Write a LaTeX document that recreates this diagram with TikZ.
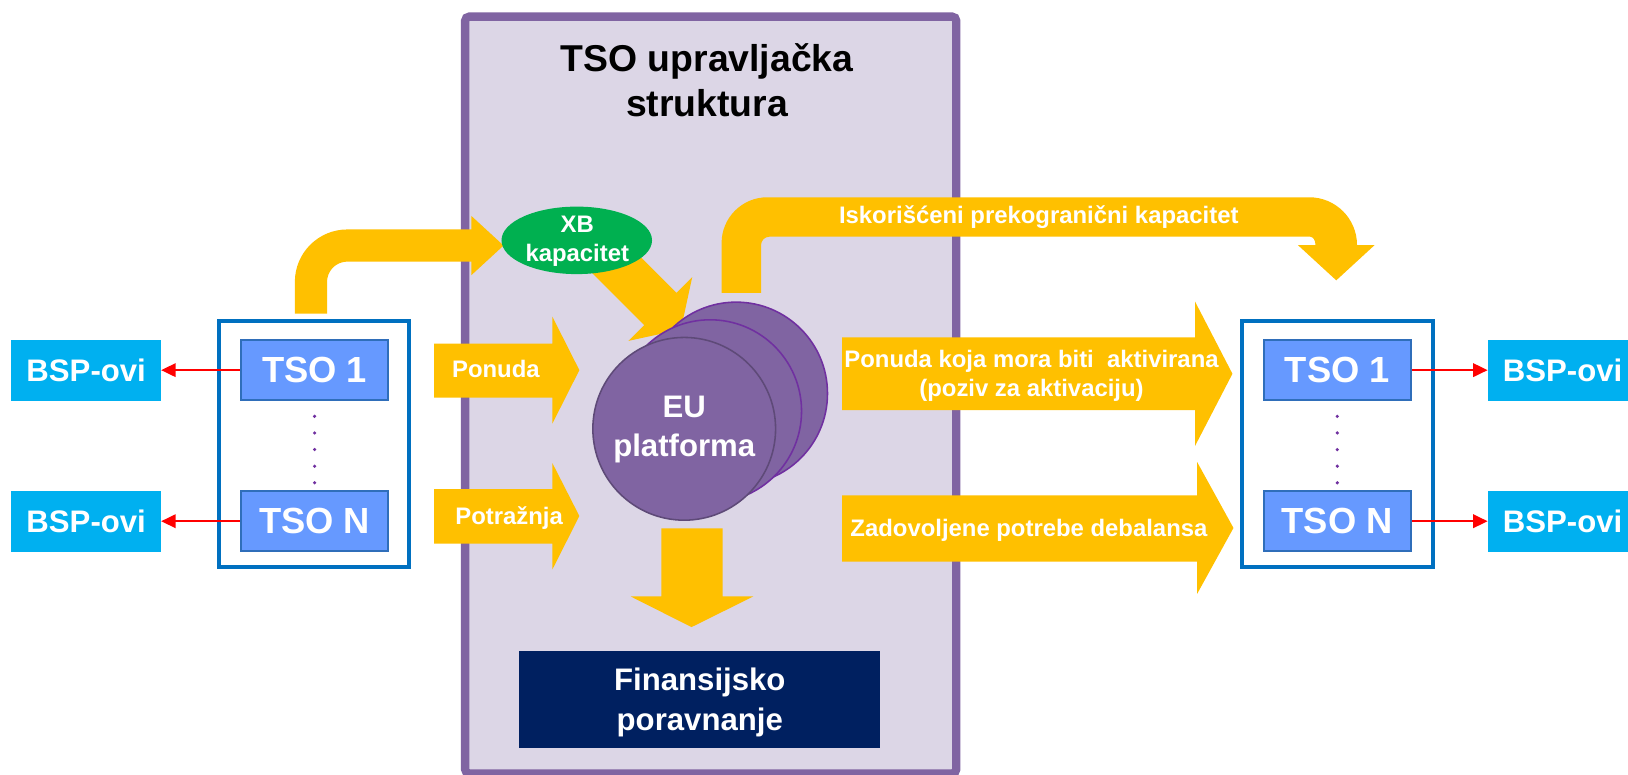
\documentclass[tikz,border=0pt]{standalone}
\usepackage{fontspec}
\setmainfont{Liberation Sans}
\usetikzlibrary{arrows.meta,shapes.geometric}
\definecolor{orng}{HTML}{FFC000}
\definecolor{pborder}{HTML}{8064A2}
\definecolor{pfill}{HTML}{DCD6E6}
\definecolor{fblue}{HTML}{0070C0}
\definecolor{tsofill}{HTML}{6699FF}
\definecolor{tsoline}{HTML}{2F6EBA}
\definecolor{bspfill}{HTML}{00B0F0}
\definecolor{navy}{HTML}{002060}
\definecolor{xbgreen}{HTML}{00B050}
\definecolor{circfill}{HTML}{8064A2}
\definecolor{circline}{HTML}{7030A0}
\definecolor{circfront}{HTML}{5E4A78}
\definecolor{dotc}{HTML}{7030A0}
\begin{document}
\begin{tikzpicture}[x=1pt,y=-1pt,
  tsobox/.style={draw=tsoline, line width=2pt, fill=tsofill, minimum width=142pt, minimum height=58pt, inner sep=0pt, text=white, font=\bfseries\fontsize{35}{40}\selectfont},
  bspbox/.style={fill=bspfill, minimum width=144pt, minimum height=59pt, inner sep=0pt, text=white, font=\bfseries\fontsize{30}{36}\selectfont},
  tsoframe/.style={draw=fblue, line width=3.5pt, minimum width=183pt, minimum height=237pt, inner sep=0pt},
  redarrow/.style={draw=red, line width=2pt, -{Triangle[length=14pt,width=13pt]}},
  blockarrow/.style={fill=orng},
  arrowlbl/.style={text=white, font=\bfseries\fontsize{23}{28}\selectfont, align=center, inner sep=0pt},
  platecirc/.style={circle, fill=circfill, draw=circline, line width=1.5pt, minimum size=176pt, inner sep=0pt},
  structbox/.style={draw=pborder, fill=pfill, line width=8pt, rounded corners=4pt, minimum width=473pt, minimum height=729pt, inner sep=0pt}
]
\useasboundingbox (0,0) rectangle (1568,746);
\fill[white] (0,0) rectangle (1568,746);

% TSO governance structure
\node[structbox] (struct) at (684.5,380.5) {};
\node[font=\bfseries\fontsize{36}{43}\selectfont, align=center, inner sep=0pt] (title) at (681,77) {TSO upravljačka\\struktura};

% L-shaped arrow from left TSOs to XB capacity
\draw[orng, line width=31pt, rounded corners=35pt] (299.5,302) |- (455,236.5);
\fill[blockarrow] (454,208) -- (485,236.5) -- (454,265) -- cycle;

% Used cross-border capacity arrow
\fill[blockarrow] (695,282) -- (695,234)
  .. controls (695,209.7) and (714.7,190) .. (739,190)
  -- (1261,190)
  .. controls (1286.4,190) and (1307,210.6) .. (1307,236)
  -- (1324,236) -- (1287,270) -- (1250,236) -- (1267,236)
  .. controls (1267,231.6) and (1264.8,228) .. (1262,228)
  -- (741,228)
  .. controls (736.6,228) and (733,231.6) .. (733,236)
  -- (733,282) -- cycle;
\node[arrowlbl, anchor=base] (iskor) at (1000.5,215) {Iskorišćeni prekogranični kapacitet};

% XB capacity diagonal arrow
\fill[blockarrow, shift={(579.4,241)}, rotate=-45] (0,-22) -- (80,-22) -- (80,-43.5) -- (108,0) -- (80,43.5) -- (80,22) -- (0,22) -- cycle;

% XB capacity
\node[ellipse, fill=xbgreen, minimum width=145pt, minimum height=65pt, inner sep=0pt] (xb) at (555.5,231.5) {};
\node[arrowlbl] (xblbl) at (556,232.5) {XB\\kapacitet};

% EU platform
\node[platecirc] (c3) at (709,379) {};
\node[platecirc] (c2) at (684,396) {};
\node[platecirc, draw=circfront] (c1) at (659,413) {};
\node[text=white, font=\bfseries\fontsize{30}{37.5}\selectfont, align=center, inner sep=0pt] (eulbl) at (659,413.5) {EU\\platforma};

% Ponuda / Potraznja arrows
\fill[blockarrow] (418,331) -- (532,331) -- (532,305) -- (558,356.5) -- (532,408) -- (532,383) -- (418,383) -- cycle;
\node[arrowlbl, anchor=base] (ponuda) at (477.6,363.4) {Ponuda};
\fill[blockarrow] (418,471) -- (532,471) -- (532,446) -- (558,497) -- (532,548.5) -- (532,523.5) -- (418,523.5) -- cycle;
\node[arrowlbl, anchor=base] (potraznja) at (490.4,505.6) {Potražnja};

% Down arrow and settlement
\fill[blockarrow] (637,509) -- (696,509) -- (696,574.5) -- (725.5,574.5) -- (666,604) -- (607.5,574.5) -- (637,574.5) -- cycle;
\node[fill=navy, minimum width=348pt, minimum height=93pt, inner sep=0pt] (fin) at (674,673.5) {};
\node[text=white, font=\bfseries\fontsize{30}{38}\selectfont, align=center, inner sep=0pt] (finlbl) at (674,676.5) {Finansijsko\\poravnanje};

% Right-going arrows
\fill[blockarrow] (811,325) -- (1151,325) -- (1151,290.5) -- (1187,360) -- (1151,429.5) -- (1151,395) -- (811,395) -- cycle;
\node[arrowlbl] (aktiv) at (993.5,362) {Ponuda koja mora biti\ \ aktivirana\\(poziv za aktivaciju)};
\fill[blockarrow] (811,477) -- (1153,477) -- (1153,445) -- (1188,508.5) -- (1153,572) -- (1153,541) -- (811,541) -- cycle;
\node[arrowlbl, anchor=base] (zadov) at (991,516.9) {Zadovoljene potrebe debalansa};

% Left TSOs
\node[tsoframe] (frameL) at (302.5,427.5) {};
\node[tsobox] (tsoL1) at (303,356.5) {TSO 1};
\node[tsobox] (tsoLN) at (303,502) {TSO N};
\node[bspbox] (bspL1) at (83,356.5) {BSP-ovi};
\node[bspbox] (bspL2) at (83,502) {BSP-ovi};
\draw[redarrow] (tsoL1.west) -- (bspL1.east |- tsoL1.west);
\draw[redarrow] (tsoLN.west) -- (bspL2.east |- tsoLN.west);

% Right TSOs
\node[tsoframe, minimum width=184pt] (frameR) at (1288,427.5) {};
\node[tsobox] (tsoR1) at (1288,356.5) {TSO 1};
\node[tsobox] (tsoRN) at (1288,502) {TSO N};
\node[bspbox] (bspR1) at (1505,356.5) {BSP-ovi};
\node[bspbox] (bspR2) at (1505,502) {BSP-ovi};
\draw[redarrow] (tsoR1.east) -- (bspR1.west |- tsoR1.east);
\draw[redarrow] (tsoRN.east) -- (bspR2.west |- tsoRN.east);

% dots
\foreach \yy in {401,417,433,449,465} {
  \fill[dotc] (303,\yy) circle (1.7pt);
  \fill[dotc] (1288,\yy) circle (1.7pt);
}
\end{tikzpicture}
\end{document}
